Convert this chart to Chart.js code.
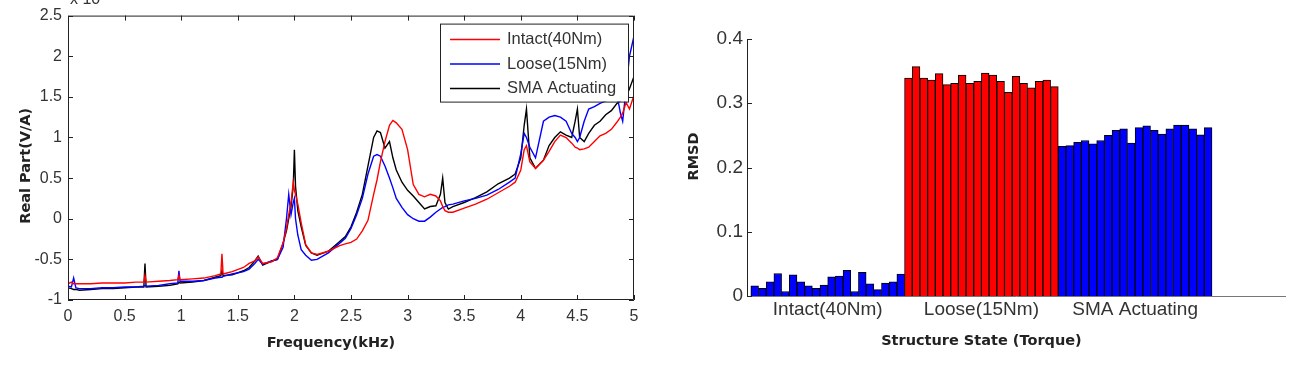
<!DOCTYPE html>
<html>
<head>
<meta charset="utf-8">
<script src="https://cdn.jsdelivr.net/npm/chart.js@4.4.1/dist/chart.umd.min.js"></script>
<style>
  html, body { margin: 0; padding: 0; background: #fff; }
  body { width: 1297px; height: 367px; position: relative; overflow: hidden; }
  .box { position: absolute; top: 0; height: 367px; }
  #left { left: 0; width: 650px; }
  #right { left: 680px; width: 617px; }
</style>
</head>
<body>
<div class="box" id="left"><canvas id="spectrumChart"></canvas></div>
<div class="box" id="right"><canvas id="rmsdChart"></canvas></div>
<script>
// frequency grid (kHz) shared by the three real-part curves
var freq = [
  0, 0.03, 0.05, 0.07, 0.1, 0.2, 0.3, 0.4, 0.5, 0.6,
  0.67, 0.68, 0.69, 0.8, 0.9, 0.97, 0.98, 0.99, 1.1, 1.2,
  1.3, 1.35, 1.36, 1.37, 1.45, 1.55, 1.6, 1.65, 1.68, 1.72,
  1.8, 1.85, 1.9, 1.93, 1.95, 1.97, 1.99, 2.0, 2.01, 2.03,
  2.06, 2.1, 2.15, 2.2, 2.3, 2.4, 2.45, 2.5, 2.55, 2.6,
  2.65, 2.7, 2.73, 2.76, 2.8, 2.84, 2.87, 2.9, 2.95, 3.0,
  3.05, 3.1, 3.15, 3.2, 3.25, 3.29, 3.31, 3.33, 3.36, 3.4,
  3.5, 3.6, 3.7, 3.8, 3.9, 3.95, 4.0, 4.03, 4.05, 4.08,
  4.13, 4.2, 4.25, 4.3, 4.35, 4.4, 4.45, 4.48, 4.5, 4.52,
  4.56, 4.6, 4.65, 4.7, 4.75, 4.8, 4.85, 4.88, 4.9, 4.93,
  4.96, 5.0
];
var intact = [
  -0.80, -0.78, -0.80, -0.80, -0.80, -0.80, -0.79, -0.79, -0.79, -0.78,
  -0.78, -0.70, -0.78, -0.77, -0.76, -0.75, -0.70, -0.75, -0.74, -0.73,
  -0.70, -0.68, -0.43, -0.68, -0.65, -0.60, -0.55, -0.52, -0.47, -0.55,
  -0.53, -0.48, -0.30, -0.12, 0.05, 0.20, 0.45, 0.35, 0.30, 0.18,
  -0.05, -0.32, -0.42, -0.44, -0.40, -0.33, -0.31, -0.29, -0.25, -0.15,
  -0.02, 0.30, 0.48, 0.70, 0.95, 1.15, 1.21, 1.18, 1.10, 0.85,
  0.42, 0.30, 0.27, 0.30, 0.28, 0.22, 0.15, 0.10, 0.08, 0.08,
  0.13, 0.18, 0.24, 0.32, 0.40, 0.45, 0.60, 0.85, 0.90, 0.70,
  0.62, 0.72, 0.83, 0.95, 1.03, 1.00, 0.93, 0.88, 0.87, 0.85,
  0.86, 0.88, 0.95, 1.02, 1.05, 1.10, 1.19, 1.25, 1.30, 1.43,
  1.35, 1.52
];
var loose = [
  -0.83, -0.84, -0.73, -0.85, -0.86, -0.86, -0.85, -0.85, -0.84, -0.84,
  -0.83, -0.82, -0.83, -0.82, -0.80, -0.79, -0.64, -0.77, -0.77, -0.76,
  -0.73, -0.72, -0.72, -0.71, -0.68, -0.65, -0.62, -0.55, -0.50, -0.56,
  -0.52, -0.50, -0.35, 0.00, 0.30, 0.05, 0.20, 0.25, 0.00, -0.20,
  -0.38, -0.45, -0.51, -0.50, -0.42, -0.30, -0.24, -0.12, 0.05, 0.25,
  0.55, 0.77, 0.79, 0.77, 0.65, 0.50, 0.38, 0.25, 0.14, 0.05,
  0.00, -0.03, -0.03, 0.02, 0.08, 0.12, 0.14, 0.15, 0.17, 0.18,
  0.22, 0.25, 0.29, 0.36, 0.45, 0.50, 0.80, 1.05, 1.00, 0.88,
  0.75, 1.20, 1.25, 1.27, 1.25, 1.20, 1.05, 1.00, 0.95, 1.00,
  1.20, 1.35, 1.38, 1.42, 1.45, 1.48, 1.52, 1.30, 1.20, 1.60,
  2.00, 2.25
];
var sma = [
  -0.85, -0.86, -0.87, -0.87, -0.88, -0.87, -0.86, -0.86, -0.85, -0.84,
  -0.84, -0.55, -0.84, -0.83, -0.82, -0.80, -0.78, -0.79, -0.78, -0.76,
  -0.72, -0.70, -0.64, -0.70, -0.69, -0.64, -0.60, -0.52, -0.46, -0.57,
  -0.52, -0.50, -0.30, -0.15, 0.00, 0.15, 0.40, 0.85, 0.40, 0.10,
  -0.10, -0.33, -0.42, -0.45, -0.40, -0.28, -0.22, -0.10, 0.08, 0.30,
  0.65, 1.00, 1.08, 1.06, 0.87, 0.95, 0.75, 0.60, 0.45, 0.35,
  0.28, 0.20, 0.12, 0.15, 0.16, 0.30, 0.50, 0.20, 0.12, 0.15,
  0.20, 0.26, 0.33, 0.43, 0.50, 0.55, 0.75, 1.15, 1.35, 0.75,
  0.62, 0.72, 0.90, 1.00, 1.07, 1.03, 1.00, 1.20, 1.35, 1.00,
  0.95, 1.05, 1.15, 1.20, 1.28, 1.33, 1.42, 1.45, 1.47, 1.50,
  1.60, 1.75
];
var freqTicks = [0, 0.5, 1, 1.5, 2, 2.5, 3, 3.5, 4, 4.5, 5];
var realTicks = [-1, -0.5, 0, 0.5, 1, 1.5, 2, 2.5];

// RMSD per measurement, one array per structure state
var rmsdIntact = [0.016, 0.012, 0.022, 0.035, 0.007, 0.033, 0.022, 0.016, 0.012, 0.017,
                  0.030, 0.031, 0.040, 0.007, 0.037, 0.019, 0.010, 0.020, 0.022, 0.034];
var rmsdLoose  = [0.339, 0.357, 0.339, 0.336, 0.346, 0.329, 0.331, 0.344, 0.331, 0.334,
                  0.347, 0.344, 0.334, 0.317, 0.342, 0.331, 0.324, 0.334, 0.336, 0.326];
var rmsdSma    = [0.233, 0.234, 0.239, 0.242, 0.237, 0.242, 0.250, 0.258, 0.260, 0.238,
                  0.262, 0.265, 0.258, 0.252, 0.260, 0.266, 0.266, 0.260, 0.251, 0.262];
var stateLabels = ['Intact(40Nm)', 'Loose(15Nm)', 'SMA Actuating'];
var rmsdTicks = [0, 0.1, 0.2, 0.3, 0.4];

var sansFamily = '"Liberation Sans", Arial, sans-serif';
var titleFont = 'bold 14.5px "DejaVu Sans", Verdana, sans-serif';

function curve(values) {
  return freq.map(function(f, i) { return {x: f, y: values[i]}; });
}
function bars(values, start) {
  return values.map(function(v, i) { return {x: start + i + 1, y: v}; });
}
function fixedTicks(list) {
  return function(scale) { scale.ticks = list.map(function(v) { return {value: v}; }); };
}
function plainLabel(v) { return String(v); }

// box round the plot area with inward tick marks, like a MATLAB axes
var framePlugin = {
  id: 'frame',
  afterDatasetsDraw: function(chart, args, opts) {
    var a = chart.chartArea, ctx = chart.ctx;
    var xs = chart.scales.x, ys = chart.scales.y, len = opts.tick;
    ctx.save();
    ctx.strokeStyle = opts.color;
    ctx.lineWidth = 1;
    ctx.beginPath();
    if (opts.box) {
      ctx.rect(a.left + 0.5, a.top + 0.5, a.right - a.left - 1, a.bottom - a.top - 1);
    }
    ys.ticks.forEach(function(t) {
      var py = Math.round(ys.getPixelForValue(t.value)) + 0.5;
      ctx.moveTo(a.left, py); ctx.lineTo(a.left + len, py);
      if (opts.box) { ctx.moveTo(a.right, py); ctx.lineTo(a.right - len, py); }
    });
    if (opts.xTicks) {
      xs.ticks.forEach(function(t) {
        var px = Math.round(xs.getPixelForValue(t.value)) + 0.5;
        ctx.moveTo(px, a.bottom); ctx.lineTo(px, a.bottom - len);
        if (opts.box) { ctx.moveTo(px, a.top); ctx.lineTo(px, a.top + len); }
      });
    }
    ctx.stroke();
    ctx.restore();
  }
};

// axis titles, placed where the figure has them
var titlesPlugin = {
  id: 'axisTitles',
  afterDraw: function(chart, args, opts) {
    var a = chart.chartArea, ctx = chart.ctx;
    ctx.save();
    if (opts.note) {
      ctx.font = '16px ' + sansFamily;
      ctx.textAlign = 'left';
      ctx.textBaseline = 'alphabetic';
      ctx.fillStyle = '#333';
      ctx.fillText(opts.note, a.left + 2, 4);
    }
    ctx.font = titleFont;
    ctx.fillStyle = '#222';
    ctx.textAlign = 'center';
    ctx.textBaseline = 'middle';
    var cx = opts.x.at !== undefined ? chart.scales.x.getPixelForValue(opts.x.at) : (a.left + a.right) / 2 + opts.x.dx;
    ctx.fillText(opts.x.text, cx, a.bottom + opts.x.dy);
    ctx.translate(opts.y.x, (a.top + a.bottom) / 2 + opts.y.dy);
    ctx.rotate(-Math.PI / 2);
    ctx.fillText(opts.y.text, 0, 0);
    ctx.restore();
  }
};

// legend box inside the top right corner of the plot
var legendBoxPlugin = {
  id: 'legendBox',
  afterDraw: function(chart, args, opts) {
    var a = chart.chartArea, ctx = chart.ctx;
    var left = a.right - opts.right - opts.width, top = a.top + opts.top;
    ctx.save();
    ctx.fillStyle = '#fff';
    ctx.fillRect(left, top, opts.width, opts.height);
    ctx.strokeStyle = '#222';
    ctx.lineWidth = 1;
    ctx.strokeRect(left + 0.5, top + 0.5, opts.width, opts.height);
    ctx.font = '16.5px ' + sansFamily;
    ctx.textBaseline = 'middle';
    chart.data.datasets.forEach(function(ds, i) {
      var yy = top + opts.first + i * opts.gap;
      ctx.strokeStyle = ds.borderColor;
      ctx.lineWidth = 1.5;
      ctx.beginPath();
      ctx.moveTo(left + 10, yy);
      ctx.lineTo(left + 60, yy);
      ctx.stroke();
      ctx.fillStyle = '#333';
      ctx.fillText(ds.label, left + 67, yy);
    });
    ctx.restore();
  }
};

new Chart(document.getElementById('spectrumChart'), {
  type: 'line',
  data: {
    datasets: [
      {label: 'Intact(40Nm)', data: curve(intact), borderColor: '#ff0000'},
      {label: 'Loose(15Nm)', data: curve(loose), borderColor: '#0000ff'},
      {label: 'SMA Actuating', data: curve(sma), borderColor: '#000000'}
    ]
  },
  options: {
    responsive: true,
    maintainAspectRatio: false,
    animation: false,
    devicePixelRatio: 1,
    layout: {padding: {top: 14, right: 16, left: 0, bottom: 0}},
    elements: {point: {radius: 0}, line: {borderWidth: 1.4, tension: 0}},
    scales: {
      x: {
        type: 'linear', min: 0, max: 5,
        afterBuildTicks: fixedTicks(freqTicks),
        afterFit: function(s) { s.height = 67; },
        grid: {display: false, drawTicks: false},
        border: {display: false},
        ticks: {font: {family: sansFamily, size: 16}, color: '#333', padding: 7, maxRotation: 0, autoSkip: false, callback: plainLabel}
      },
      y: {
        type: 'linear', min: -1, max: 2.5,
        afterBuildTicks: fixedTicks(realTicks),
        afterFit: function(s) { s.width = 68; },
        grid: {display: false, drawTicks: false},
        border: {display: false},
        ticks: {font: {family: sansFamily, size: 16}, color: '#333', padding: 6, autoSkip: false, callback: plainLabel}
      }
    },
    plugins: {
      legend: {display: false},
      tooltip: {enabled: false},
      frame: {color: '#222', tick: 5, box: true, xTicks: true},
      axisTitles: {
        x: {text: 'Frequency(kHz)', dx: -20, dy: 43},
        y: {text: 'Real Part(V/A)', x: 26, dy: 8},
        note: 'x 10'
      },
      legendBox: {width: 188, height: 78, right: 6, top: 8, first: 16, gap: 24.5}
    }
  },
  plugins: [framePlugin, titlesPlugin, legendBoxPlugin]
});

var groupCenters = [0, 1, 2].map(function(g) { return g * rmsdIntact.length + (rmsdIntact.length + 1) / 2; });

new Chart(document.getElementById('rmsdChart'), {
  type: 'bar',
  data: {
    datasets: [
      {label: stateLabels[0], data: bars(rmsdIntact, 0), backgroundColor: '#0000ff'},
      {label: stateLabels[1], data: bars(rmsdLoose, rmsdIntact.length), backgroundColor: '#ff0000'},
      {label: stateLabels[2], data: bars(rmsdSma, rmsdIntact.length + rmsdLoose.length), backgroundColor: '#0000ff'}
    ]
  },
  options: {
    responsive: true,
    maintainAspectRatio: false,
    animation: false,
    devicePixelRatio: 1,
    layout: {padding: {top: 39, right: 12, left: 0, bottom: 0}},
    datasets: {bar: {grouped: false, barPercentage: 1, categoryPercentage: 1, borderWidth: 1, borderColor: '#000'}},
    scales: {
      x: {
        type: 'linear', min: 0, max: 70, offset: false,
        afterBuildTicks: fixedTicks(groupCenters),
        afterFit: function(s) { s.height = 71; },
        grid: {display: false, drawTicks: false, offset: false},
        border: {display: true, color: '#777', width: 1},
        ticks: {
          font: {family: sansFamily, size: 19}, color: '#333', padding: 2, maxRotation: 0, autoSkip: false,
          callback: function(v, i) { return stateLabels[i]; }
        }
      },
      y: {
        type: 'linear', min: 0, max: 0.4,
        afterBuildTicks: fixedTicks(rmsdTicks),
        afterFit: function(s) { s.width = 67; },
        grid: {display: false, drawTicks: false},
        border: {display: true, color: '#222', width: 1},
        ticks: {font: {family: sansFamily, size: 19}, color: '#333', padding: 4, autoSkip: false, callback: plainLabel}
      }
    },
    plugins: {
      legend: {display: false},
      tooltip: {enabled: false},
      frame: {color: '#222', tick: 5, box: false, xTicks: false},
      axisTitles: {
        x: {text: 'Structure State (Torque)', at: 30.5, dy: 45},
        y: {text: 'RMSD', x: 14, dy: -11}
      }
    }
  },
  plugins: [framePlugin, titlesPlugin]
});
</script>
</body>
</html>
